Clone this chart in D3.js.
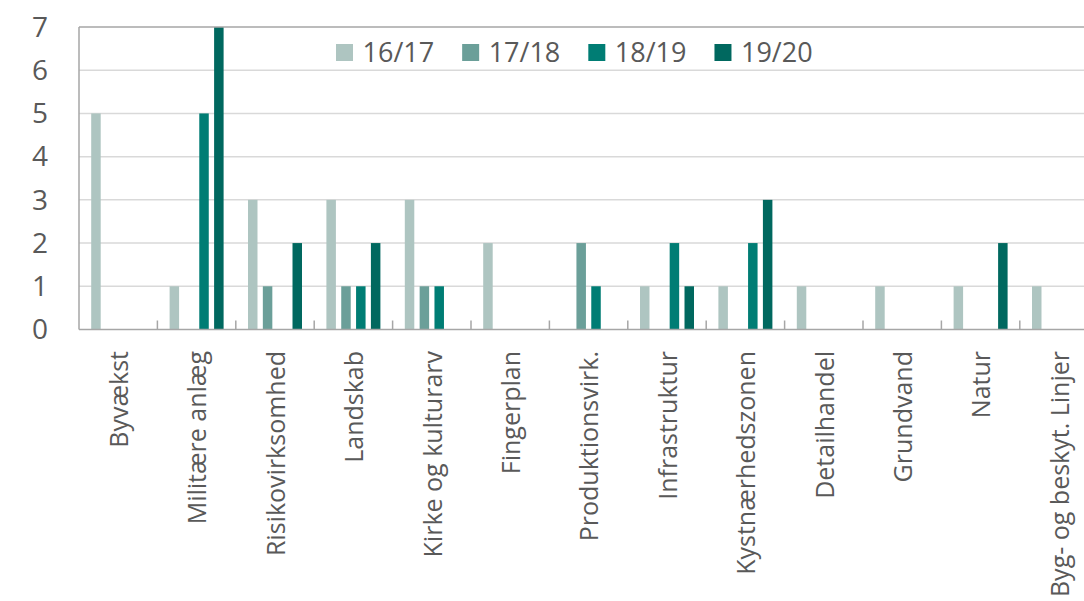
<!DOCTYPE html>
<html lang="da">
<head>
    <meta charset="UTF-8">
    <title>Indsigelser fordelt på emne</title>
    <script src="https://d3js.org/d3.v7.min.js"></script>
    <style>
        body {
            margin: 0;
            background: #ffffff;
            overflow: hidden;
        }
        svg {
            display: block;
            font-family: "Open Sans", "Noto Sans", sans-serif;
        }
        .grid line {
            stroke: #d9d9d9;
            stroke-width: 1.5;
        }
        .label {
            fill: #595959;
        }
    </style>
</head>
<body>
    <div id="chart"></div>
    <script>
        const width = 1084;
        const height = 601;

        // Data
        const categories = [
            "Byvækst", "Militære anlæg", "Risikovirksomhed", "Landskab",
            "Kirke og kulturarv", "Fingerplan", "Produktionsvirk.", "Infrastruktur",
            "Kystnærhedszonen", "Detailhandel", "Grundvand", "Natur",
            "Byg- og beskyt. Linjer"
        ];
        const seriesNames = ["16/17", "17/18", "18/19", "19/20"];
        const values1617 = [5, 1, 3, 3, 3, 2, 0, 1, 1, 1, 1, 1, 1];
        const values1718 = [0, 0, 1, 1, 1, 0, 2, 0, 0, 0, 0, 0, 0];
        const values1819 = [0, 5, 0, 1, 1, 0, 1, 2, 2, 0, 0, 0, 0];
        const values1920 = [0, 7, 2, 2, 0, 0, 0, 1, 3, 0, 0, 2, 0];
        const yTicks = [0, 1, 2, 3, 4, 5, 6, 7];
        const colors = ["#aec5c1", "#6b9f99", "#007d74", "#00685f"];

        const seriesValues = [values1617, values1718, values1819, values1920];

        const margin = { left: 79, top: 27 };
        const plotBottom = 329.5;
        const band = 78.4;
        const plotRight = margin.left + band * categories.length;

        const svg = d3.select("#chart").append("svg")
            .attr("width", width)
            .attr("height", height);

        const x0 = d3.scaleBand()
            .domain(categories)
            .range([margin.left, plotRight])
            .padding(0);

        const x1 = d3.scaleBand()
            .domain(seriesNames)
            .range([12.2, band - 12.2])
            .paddingInner(0.36)
            .paddingOuter(0);

        const y = d3.scaleLinear()
            .domain([0, 7])
            .range([plotBottom, margin.top]);

        // Gitterlinjer
        svg.append("g")
            .attr("class", "grid")
            .selectAll("line")
            .data(yTicks.filter(t => t > 0 && t < 7))
            .join("line")
            .attr("x1", margin.left)
            .attr("x2", plotRight)
            .attr("y1", d => y(d))
            .attr("y2", d => y(d));

        // Søjler
        const rows = categories.map((c, i) => ({
            category: c,
            values: seriesNames.map((s, j) => ({ series: s, value: seriesValues[j][i], color: colors[j] }))
        }));

        svg.append("g")
            .selectAll("g")
            .data(rows)
            .join("g")
            .attr("transform", d => `translate(${x0(d.category)},0)`)
            .selectAll("rect")
            .data(d => d.values.filter(v => v.value > 0))
            .join("rect")
            .attr("x", d => x1(d.series))
            .attr("width", x1.bandwidth())
            .attr("y", d => y(d.value))
            .attr("height", d => y(0) - y(d.value))
            .attr("fill", d => d.color);

        // Ramme: venstre, top og bund
        const frame = svg.append("g")
            .attr("stroke", "#a6a6a6")
            .attr("stroke-width", 1.5)
            .attr("fill", "none");
        frame.append("line")
            .attr("x1", margin.left).attr("x2", plotRight)
            .attr("y1", y(7)).attr("y2", y(7));
        frame.append("line")
            .attr("x1", margin.left).attr("x2", margin.left)
            .attr("y1", y(7)).attr("y2", y(0));
        frame.append("line")
            .attr("x1", margin.left).attr("x2", plotRight)
            .attr("y1", y(0)).attr("y2", y(0));

        // Små skillestreger mellem kategorier
        frame.selectAll("line.tick")
            .data(categories.slice(1))
            .join("line")
            .attr("class", "tick")
            .attr("x1", d => x0(d)).attr("x2", d => x0(d))
            .attr("y1", y(0)).attr("y2", y(0) - 9);

        // Y-akse tal
        svg.append("g")
            .selectAll("text")
            .data(yTicks)
            .join("text")
            .attr("class", "label")
            .attr("x", 48)
            .attr("y", d => y(d))
            .attr("dy", "0.35em")
            .attr("text-anchor", "end")
            .style("font-size", "28px")
            .text(d => d);

        // Kategori-labels
        svg.append("g")
            .selectAll("text")
            .data(categories)
            .join("text")
            .attr("class", "label")
            .attr("transform", d => `translate(${x0(d) + x0.bandwidth() / 2 + 1},351) rotate(-90)`)
            .attr("dy", "0.35em")
            .attr("text-anchor", "end")
            .style("font-size", "25px")
            .text(d => d);

        // Legende
        const legend = svg.append("g")
            .attr("transform", "translate(336,53)");
        let lx = 0;
        seriesNames.forEach((s, i) => {
            const item = legend.append("g").attr("transform", `translate(${lx},0)`);
            item.append("rect")
                .attr("x", 0)
                .attr("y", -9)
                .attr("width", 17)
                .attr("height", 17)
                .attr("fill", colors[i]);
            const t = item.append("text")
                .attr("class", "label")
                .attr("x", 26.5)
                .attr("dy", "0.35em")
                .style("font-size", "27px")
                .text(s);
            lx += 26.5 + t.node().getComputedTextLength() + 28;
        });
    </script>
</body>
</html>
